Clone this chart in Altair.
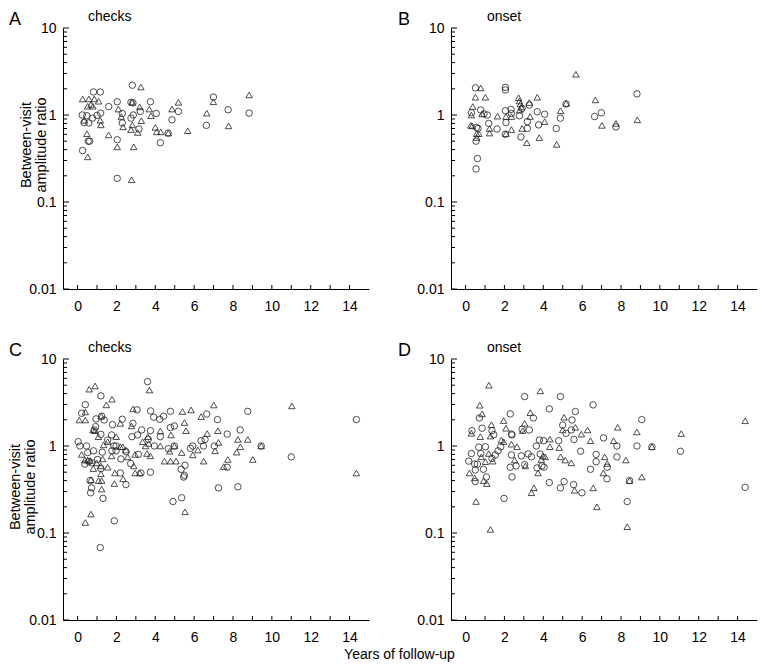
import altair as alt
import pandas as pd

FONT = "Liberation Sans"

# ---------------- data (x = years of follow-up, y = amplitude ratio) ----------------
a_circles = [[0.82,1.84],[1.17,1.84],[0.24,1.0],[0.34,0.82],[0.58,0.81],[0.55,0.50],[0.62,0.50],[0.26,0.39],
             [0.48,0.98],[0.77,0.92],[1.0,0.99],[1.19,1.05],[1.6,1.25],[2.04,1.42],[2.04,0.52],[2.04,0.187],
             [2.3,1.04],[2.3,0.81],[2.82,2.2],[2.75,1.40],[2.85,1.38],[2.75,0.92],[2.87,1.0],[3.23,1.1],
             [3.16,0.69],[3.75,1.42],[4.05,1.04],[4.26,0.48],[4.66,0.62],[4.86,0.88],[5.19,1.10],[6.63,0.76],
             [6.99,1.61],[7.75,1.15],[8.83,1.05]]
a_triangles = [[0.26,1.53],[0.58,1.53],[0.86,1.53],[1.08,1.44],[0.52,1.26],[0.69,1.32],[0.79,1.26],[0.34,0.87],
               [0.48,0.61],[0.52,0.33],[1.17,0.87],[1.2,0.77],[1.6,0.59],[2.1,1.17],[2.04,0.43],[2.25,0.96],
               [2.34,0.73],[2.75,0.68],[2.82,1.4],[2.89,0.43],[2.78,0.18],[2.82,0.77],[3.09,0.63],[3.2,1.24],
               [3.28,0.86],[3.26,2.1],[3.69,1.17],[3.78,0.98],[4.0,0.72],[4.07,0.64],[4.28,0.64],[4.67,0.62],
               [4.86,1.17],[5.19,1.40],[5.67,0.66],[6.65,1.05],[6.99,1.42],[7.77,0.75],[8.83,1.70]]

b_circles = [[0.51,2.05],[2.05,2.08],[2.05,1.94],[0.30,1.06],[0.78,1.14],[0.95,1.03],[1.12,1.0],[0.56,0.72],
             [0.64,0.70],[0.54,0.50],[0.61,0.316],[0.54,0.24],[1.19,0.80],[1.62,0.69],[2.05,1.12],[2.08,0.82],
             [2.05,0.60],[2.34,1.16],[2.36,1.04],[2.77,0.98],[2.85,0.56],[2.91,1.19],[3.18,0.84],[3.18,0.70],
             [3.28,1.30],[3.69,1.09],[3.76,0.77],[4.07,1.02],[4.67,0.70],[4.88,0.92],[5.17,1.34],[6.64,0.96],
             [6.99,1.06],[7.74,0.73],[8.82,1.75]]
b_triangles = [[0.78,2.05],[0.51,1.6],[1.02,1.6],[0.37,1.25],[0.30,1.0],[0.27,0.76],[0.34,0.75],[0.57,0.61],
               [0.57,0.55],[0.68,0.61],[0.85,1.03],[1.23,0.70],[1.23,0.62],[1.64,0.97],[2.08,0.96],[2.08,0.61],
               [2.36,0.96],[2.36,0.68],[2.73,1.58],[2.77,1.45],[2.82,1.34],[2.87,1.23],[2.79,1.14],[2.91,0.70],
               [3.15,0.48],[3.28,1.39],[3.32,0.96],[3.69,1.6],[3.79,0.55],[4.07,0.84],[4.69,0.46],[4.89,1.12],
               [5.18,1.36],[5.68,2.94],[6.68,1.49],[7.02,0.76],[7.74,0.80],[8.84,0.88]]

c_circles = [[1.2,3.77],[0.40,2.99],[0.21,2.38],[0.95,2.05],[1.37,1.99],[1.24,2.2],[1.80,1.76],[2.30,2.03],
             [3.06,2.6],[2.85,1.82],[3.76,2.53],[3.92,2.14],[4.23,2.03],[4.43,2.2],[4.78,2.5],[6.65,2.33],
             [7.2,2.01],[8.76,2.5],[14.35,2.01],[0.03,1.12],[0.12,1.0],[0.46,1.0],[0.86,1.53],[0.93,1.67],
             [1.2,1.36],[1.55,1.17],[1.75,1.34],[1.87,1.0],[1.98,1.0],[1.77,0.88],[1.98,0.88],[1.27,0.85],
             [0.82,0.88],[0.52,0.84],[0.38,0.62],[0.58,0.66],[0.74,0.64],[1.03,0.70],[1.2,0.55],[0.65,0.40],
             [0.72,0.33],[0.67,0.29],[1.31,0.25],[1.89,0.138],[1.17,0.068],[2.49,0.36],[2.2,0.49],[2.23,0.71],
             [2.73,0.63],[2.49,0.86],[2.8,1.28],[3.09,1.34],[3.13,0.80],[3.26,0.49],[3.3,1.53],[3.75,1.5],
             [3.64,1.19],[3.75,0.50],[3.95,1.0],[4.26,1.28],[4.78,1.63],[4.98,1.7],[4.67,0.93],[4.98,1.0],
             [5.33,0.54],[5.53,0.6],[5.5,0.46],[5.46,0.44],[5.36,0.254],[4.91,0.23],[5.81,0.94],[5.93,1.0],
             [6.36,1.15],[6.56,1.19],[6.48,1.0],[7.04,1.0],[7.7,1.37],[8.37,1.53],[7.7,0.57],[7.25,0.33],
             [8.25,0.34],[9.45,1.0],[11.0,0.75],[3.6,5.5]]
c_triangles = [[0.09,1.99],[0.40,1.99],[0.40,2.46],[1.77,3.45],[1.48,2.97],[1.22,2.2],[2.2,1.82],[2.85,2.67],
               [2.78,1.70],[4.26,1.49],[4.81,1.34],[5.4,2.49],[5.84,2.6],[5.5,1.86],[5.58,1.5],[6.36,2.18],
               [7.01,2.96],[7.22,1.5],[6.67,1.39],[8.25,1.19],[8.76,1.19],[8.38,0.98],[8.19,0.85],[7.25,1.1],
               [6.19,0.90],[5.93,0.79],[5.36,0.84],[4.74,0.87],[4.47,0.67],[4.78,0.67],[5.07,0.67],[6.49,0.67],
               [7.08,0.88],[7.73,0.70],[7.52,0.58],[9.02,0.70],[11.03,2.89],[14.35,0.49],[9.45,1.0],[4.98,1.0],
               [0.79,1.53],[0.89,1.5],[1.07,1.28],[1.34,1.03],[1.55,1.12],[1.99,1.28],[2.2,0.98],[2.49,0.90],
               [1.75,0.77],[0.21,0.80],[0.38,0.69],[0.52,0.69],[0.65,0.68],[0.81,0.55],[0.98,0.64],[1.2,0.59],
               [1.29,0.71],[1.55,0.57],[1.2,0.48],[1.24,0.40],[1.08,0.40],[0.69,0.41],[1.24,0.32],[1.92,0.49],
               [1.89,0.37],[2.34,0.42],[2.89,0.59],[2.96,0.49],[3.2,0.49],[2.96,0.80],[3.75,0.77],[3.57,0.82],
               [3.35,1.12],[3.61,1.28],[3.66,1.07],[3.5,1.0],[4.26,1.0],[5.53,0.175],[0.69,0.165],[0.40,0.132],
               [2.32,0.98],[2.58,0.75],[0.6,4.5],[0.9,4.9],[3.7,4.4]]

d_circles = [[0.71,2.1],[2.3,2.34],[3.49,2.1],[4.31,2.67],[5.65,2.49],[5.48,1.99],[5.0,1.74],[9.07,2.01],
             [0.33,1.50],[0.85,1.6],[1.36,1.5],[1.45,1.35],[2.36,1.37],[2.91,1.56],[3.28,1.53],[3.64,1.0],
             [3.8,1.17],[4.02,1.15],[4.79,1.15],[5.17,1.4],[5.44,1.53],[5.58,1.19],[7.1,1.24],[7.79,1.0],
             [8.82,1.0],[9.59,0.98],[11.06,0.87],[5.92,0.87],[0.68,0.97],[1.02,0.98],[0.78,0.82],[0.30,0.82],
             [0.16,0.67],[0.47,0.62],[0.61,0.62],[0.92,0.54],[0.5,0.53],[0.5,0.39],[1.07,0.44],[1.67,0.88],
             [1.81,0.98],[1.36,0.72],[1.53,0.79],[1.98,0.25],[2.36,0.79],[2.39,0.44],[2.3,0.57],[2.6,0.59],
             [2.87,0.77],[3.22,0.81],[3.39,0.75],[3.68,0.56],[3.93,0.59],[4.04,0.57],[4.31,0.38],[4.88,0.33],
             [5.07,0.39],[5.56,0.36],[5.99,0.29],[6.43,0.54],[6.72,0.80],[6.72,0.66],[7.29,0.57],[7.28,0.42],
             [7.79,0.75],[8.44,0.40],[8.32,0.23],[3.04,0.61],[3.84,0.81],[2.39,1.34],[3.04,3.7],[4.88,3.7],
             [6.56,2.97],[14.39,0.335]]
d_triangles = [[0.30,1.40],[0.76,1.28],[1.33,1.76],[1.96,1.96],[2.08,1.6],[1.84,1.17],[1.96,1.12],[1.28,1.30],
               [2.36,1.05],[2.65,0.98],[3.04,1.82],[3.33,2.42],[2.94,1.5],[2.53,0.69],[0.81,0.75],[1.19,0.82],
               [1.4,0.67],[1.02,0.66],[0.2,0.49],[0.47,0.43],[0.93,0.40],[1.09,0.37],[0.54,0.23],[1.28,0.11],
               [3.73,0.49],[3.52,0.33],[3.39,0.29],[3.9,0.70],[3.98,0.77],[4.34,1.2],[4.34,0.98],[4.82,0.96],
               [4.89,0.75],[5.13,0.69],[5.44,0.64],[5.07,2.14],[5.0,1.53],[5.65,1.64],[5.96,1.37],[6.28,1.53],
               [6.43,1.15],[5.61,0.31],[6.57,0.33],[6.76,0.2],[7.09,0.49],[7.16,0.75],[7.29,0.63],[7.62,1.15],
               [7.83,1.64],[8.25,0.69],[8.82,1.45],[9.07,0.44],[8.32,0.118],[11.1,1.39],[9.59,0.98],[3.08,0.59],
               [4.1,0.75],[0.73,2.94],[0.85,2.34],[3.85,4.3],[1.2,5.0],[14.39,1.95],[8.44,0.40]]

x_tick_labels = [0, 2, 4, 6, 8, 10, 12, 14]
x_minor_ticks = list(range(0, 15))
y_tick_labels = [0.01, 0.1, 1, 10]
y_minor_ticks = [m * d for d in (0.01, 0.1, 1) for m in range(2, 10)]
panel_letters = ["A", "B", "C", "D"]
panel_titles = ["checks", "onset", "checks", "onset"]
y_title = "Between-visit\namplitude ratio"
x_title = "Years of follow-up"

# ---------------- chart ----------------
W, H = 306, 261
xs = alt.Scale(domain=[-0.75, 15], nice=False, zero=False)
ys = alt.Scale(type="log", domain=[0.01, 10], nice=False)


def panel(circles, tris, letter, title, letter_x, title_x, ytitle_pos=None):
    df = pd.DataFrame(
        [{"x": p[0], "y": p[1], "kind": "circle"} for p in circles]
        + [{"x": p[0], "y": p[1], "kind": "triangle"} for p in tris]
    )
    pts = alt.Chart(df).mark_point(filled=False, strokeWidth=0.8, color="#222222", size=42, opacity=1).encode(
        x=alt.X("x:Q", scale=xs, axis=alt.Axis(values=x_tick_labels, ticks=False, grid=False, title=None,
                                               domainColor="black", domainWidth=1, labelFont=FONT,
                                               labelFontSize=14, labelColor="black", labelPadding=10)),
        y=alt.Y("y:Q", scale=ys, axis=alt.Axis(values=y_tick_labels, format="~g", ticks=False, grid=False,
                                               title=None, domainColor="black", domainWidth=1, labelFont=FONT,
                                               labelFontSize=14, labelColor="black", labelPadding=7)),
        shape=alt.Shape("kind:N", scale=alt.Scale(domain=["circle", "triangle"], range=["circle", "triangle-up"]),
                        legend=None),
    )
    ymaj = alt.Chart(pd.DataFrame({"y": y_tick_labels})).mark_rule(color="black", strokeWidth=1).encode(
        y=alt.Y("y:Q", scale=ys), x=alt.value(0), x2=alt.value(6))
    ymin = alt.Chart(pd.DataFrame({"y": y_minor_ticks})).mark_rule(color="black", strokeWidth=1).encode(
        y=alt.Y("y:Q", scale=ys), x=alt.value(0), x2=alt.value(4))
    xt = alt.Chart(pd.DataFrame({"x": x_minor_ticks})).mark_rule(color="black", strokeWidth=1).encode(
        x=alt.X("x:Q", scale=xs), y=alt.value(H), y2=alt.value(H - 4))
    lab = alt.Chart(pd.DataFrame({"t": [letter]})).mark_text(
        align="left", baseline="alphabetic", fontSize=18, font=FONT, color="black").encode(
        text="t:N", x=alt.value(letter_x), y=alt.value(-3))
    ttl = alt.Chart(pd.DataFrame({"t": [title]})).mark_text(
        align="left", baseline="alphabetic", fontSize=14, font=FONT, color="black").encode(
        text="t:N", x=alt.value(title_x), y=alt.value(-7))
    layers = [pts, ymaj, ymin, xt, lab, ttl]
    if ytitle_pos is not None:
        yt = alt.Chart(pd.DataFrame({"t": [y_title]})).mark_text(
            angle=270, align="center", baseline="middle", fontSize=14.5, font=FONT, color="black",
            lineBreak="\n", lineHeight=15).encode(
            text="t:N", x=alt.value(ytitle_pos[0]), y=alt.value(ytitle_pos[1]))
        layers.append(yt)
    return alt.layer(*layers).properties(width=W, height=H)


pa = panel(a_circles, a_triangles, panel_letters[0], panel_titles[0], -54, 25, (-36, 117))
pb = panel(b_circles, b_triangles, panel_letters[1], panel_titles[1], -53, 36)
pc = panel(c_circles, c_triangles, panel_letters[2], panel_titles[2], -54, 25, (-47, 128))
pd_ = panel(d_circles, d_triangles, panel_letters[3], panel_titles[3], -53, 36)

chart = alt.vconcat(
    alt.hconcat(pa, pb, spacing=29),
    alt.hconcat(pc, pd_, spacing=29),
    spacing=28,
).properties(
    title=alt.TitleParams(x_title, orient="bottom", anchor="middle", fontSize=14, font=FONT,
                          fontWeight="normal", color="black", offset=4, dx=17),
    padding={"left": 0, "top": 2, "right": 5, "bottom": 0},
).configure_view(stroke=None)

chart.save("out.html", embed_options={"renderer": "svg", "actions": False})
